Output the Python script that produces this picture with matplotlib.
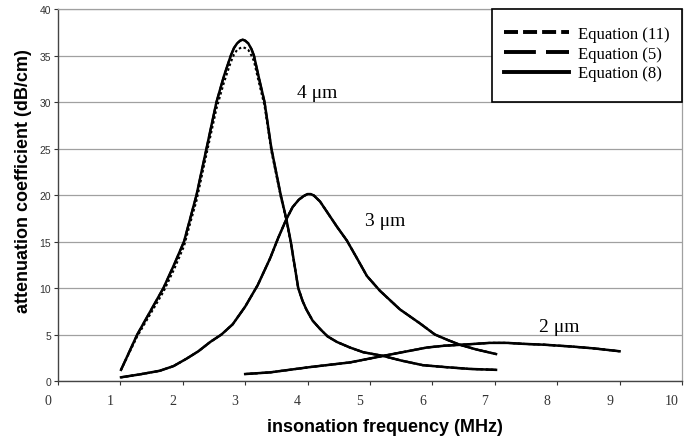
import matplotlib.pyplot as plt
import matplotlib.transforms as mtransforms
from matplotlib.lines import Line2D
from matplotlib.patches import Rectangle

# 4 um bubbles
freq_4um = [1.01, 1.27, 1.48, 1.69, 1.86, 2.02, 2.12, 2.22, 2.38, 2.54, 2.66, 2.77, 2.82,
            2.87, 2.92, 2.96, 3.0, 3.05, 3.1, 3.14, 3.22, 3.31, 3.42, 3.57, 3.66, 3.73,
            3.85, 3.92, 3.98, 4.08, 4.2, 4.32, 4.47, 4.68, 4.89, 5.21, 5.5, 5.85, 6.2,
            6.6, 7.02]
att_4um_eq8 = [1.2, 5.0, 7.5, 10.0, 12.5, 15.0, 17.5, 20.0, 25.0, 30.0, 32.8, 35.0, 35.8,
               36.3, 36.6, 36.7, 36.6, 36.3, 35.7, 35.0, 32.6, 30.0, 25.0, 20.0, 17.4,
               15.0, 10.0, 8.6, 7.7, 6.5, 5.6, 4.8, 4.2, 3.6, 3.1, 2.7, 2.2, 1.7, 1.5,
               1.3, 1.2]
att_4um_eq11 = [1.2, 4.8, 7.2, 9.6, 12.0, 14.5, 17.0, 19.4, 24.4, 29.3, 32.1, 34.3, 35.1,
                35.6, 35.8, 35.9, 35.8, 35.6, 35.0, 34.4, 32.1, 29.6, 24.7, 19.8, 17.3,
                14.9, 10.0, 8.6, 7.7, 6.5, 5.6, 4.8, 4.2, 3.6, 3.1, 2.7, 2.2, 1.7, 1.5,
                1.3, 1.2]

# 3 um bubbles
freq_3um = [1.01, 1.3, 1.63, 1.85, 2.06, 2.25, 2.44, 2.62, 2.8, 3.0, 3.2, 3.4, 3.53, 3.66,
            3.76, 3.86, 3.94, 4.0, 4.05, 4.1, 4.2, 4.31, 4.47, 4.63, 4.8, 4.95, 5.16,
            5.48, 5.8, 6.04, 6.25, 6.44, 6.7, 7.02]
att_3um = [0.4, 0.7, 1.1, 1.6, 2.4, 3.2, 4.2, 5.0, 6.1, 8.0, 10.3, 13.2, 15.4, 17.4, 18.7,
           19.5, 19.9, 20.1, 20.1, 19.95, 19.3, 18.2, 16.6, 15.1, 13.1, 11.3, 9.7, 7.7,
           6.2, 5.0, 4.4, 3.9, 3.4, 2.9]

# 2 um bubbles
freq_2um = [3.0, 3.4, 4.04, 4.68, 5.21, 5.6, 5.91, 6.2, 6.47, 6.92, 7.2, 7.45, 7.8, 8.25,
            8.6, 9.0]
att_2um = [0.75, 0.93, 1.5, 2.0, 2.7, 3.2, 3.6, 3.8, 3.9, 4.1, 4.1, 4.0, 3.9, 3.7, 3.5, 3.2]

size_labels = ["4 \u03bcm", "3 \u03bcm", "2 \u03bcm"]
label_pos = [(4.16, 31.0), (5.24, 17.3), (8.04, 5.9)]
legend_labels = ["Equation (11)", "Equation (5)", "Equation (8)"]

fig = plt.figure(figsize=(6.92, 4.39), dpi=100)
ax = fig.add_axes([0.0838, 0.1298, 0.9017, 0.8474])

dot = dict(color="k", lw=1.5, dashes=(1.2, 1.2))
dash = dict(color="k", lw=1.5, dashes=(6, 2))
solid = dict(color="k", lw=1.8)

ax.plot(freq_4um, att_4um_eq11, **dot)
ax.plot(freq_4um, att_4um_eq8, **dash)
ax.plot(freq_4um, att_4um_eq8, **solid)
for f, a in [(freq_3um, att_3um), (freq_2um, att_2um)]:
    ax.plot(f, a, **dot)
    ax.plot(f, a, **dash)
    ax.plot(f, a, **solid)

for txt, (x, y) in zip(size_labels, label_pos):
    ax.text(x, y, txt, ha="center", va="center", fontsize=14, family="Liberation Serif")

ax.set_xlim(0, 10)
ax.set_ylim(0, 40)
ax.set_xticks(range(0, 11))
ax.set_yticks(range(0, 41, 5))
ax.yaxis.grid(True, color="#a0a0a0", lw=0.9)
ax.set_axisbelow(True)

for s in ["top", "right"]:
    ax.spines[s].set_color("#a0a0a0")
    ax.spines[s].set_linewidth(0.9)
for s in ["left", "bottom"]:
    ax.spines[s].set_color("#444444")
    ax.spines[s].set_linewidth(1.0)

ax.tick_params(axis="x", length=3, pad=6, labelsize=10, colors="#333333")
ax.tick_params(axis="y", length=3, pad=2, labelsize=7.5, colors="#333333")
for lab in ax.get_xticklabels():
    lab.set_family("Liberation Serif")
for lab in ax.get_yticklabels():
    lab.set_family("Liberation Sans")
shift = mtransforms.ScaledTranslation(-0.10, 0, fig.dpi_scale_trans)
for lab in ax.get_xticklabels():
    lab.set_transform(lab.get_transform() + shift)

fig.text(0.556, 0.027, "insonation frequency (MHz)", ha="center", va="center",
         fontsize=13, fontweight="bold", family="Liberation Sans")
fig.text(0.034, 0.588, "attenuation coefficient (dB/cm)", ha="center", va="center",
         rotation=90, fontsize=13, fontweight="bold", family="Liberation Sans")

# legend with its own box
box = Rectangle((0.696, 0.75), 0.304, 0.25, transform=ax.transAxes, facecolor="white",
                edgecolor="black", lw=1.2, zorder=4, clip_on=False)
ax.add_patch(box)
handles = [Line2D([], [], color="k", lw=2.8, dashes=(3.6, 1.3)),
           Line2D([], [], color="k", lw=2.8, dashes=(8.2, 2.6)),
           Line2D([], [], color="k", lw=2.8)]
leg = ax.legend(handles, legend_labels, loc="upper left", bbox_to_anchor=(0.715, 0.954),
                frameon=False, prop=dict(family="Liberation Serif", size=12),
                handlelength=3.9, handletextpad=0.55, labelspacing=0.22,
                borderpad=0, borderaxespad=0)
leg.set_zorder(5)

fig.savefig("out.png", dpi=100)
